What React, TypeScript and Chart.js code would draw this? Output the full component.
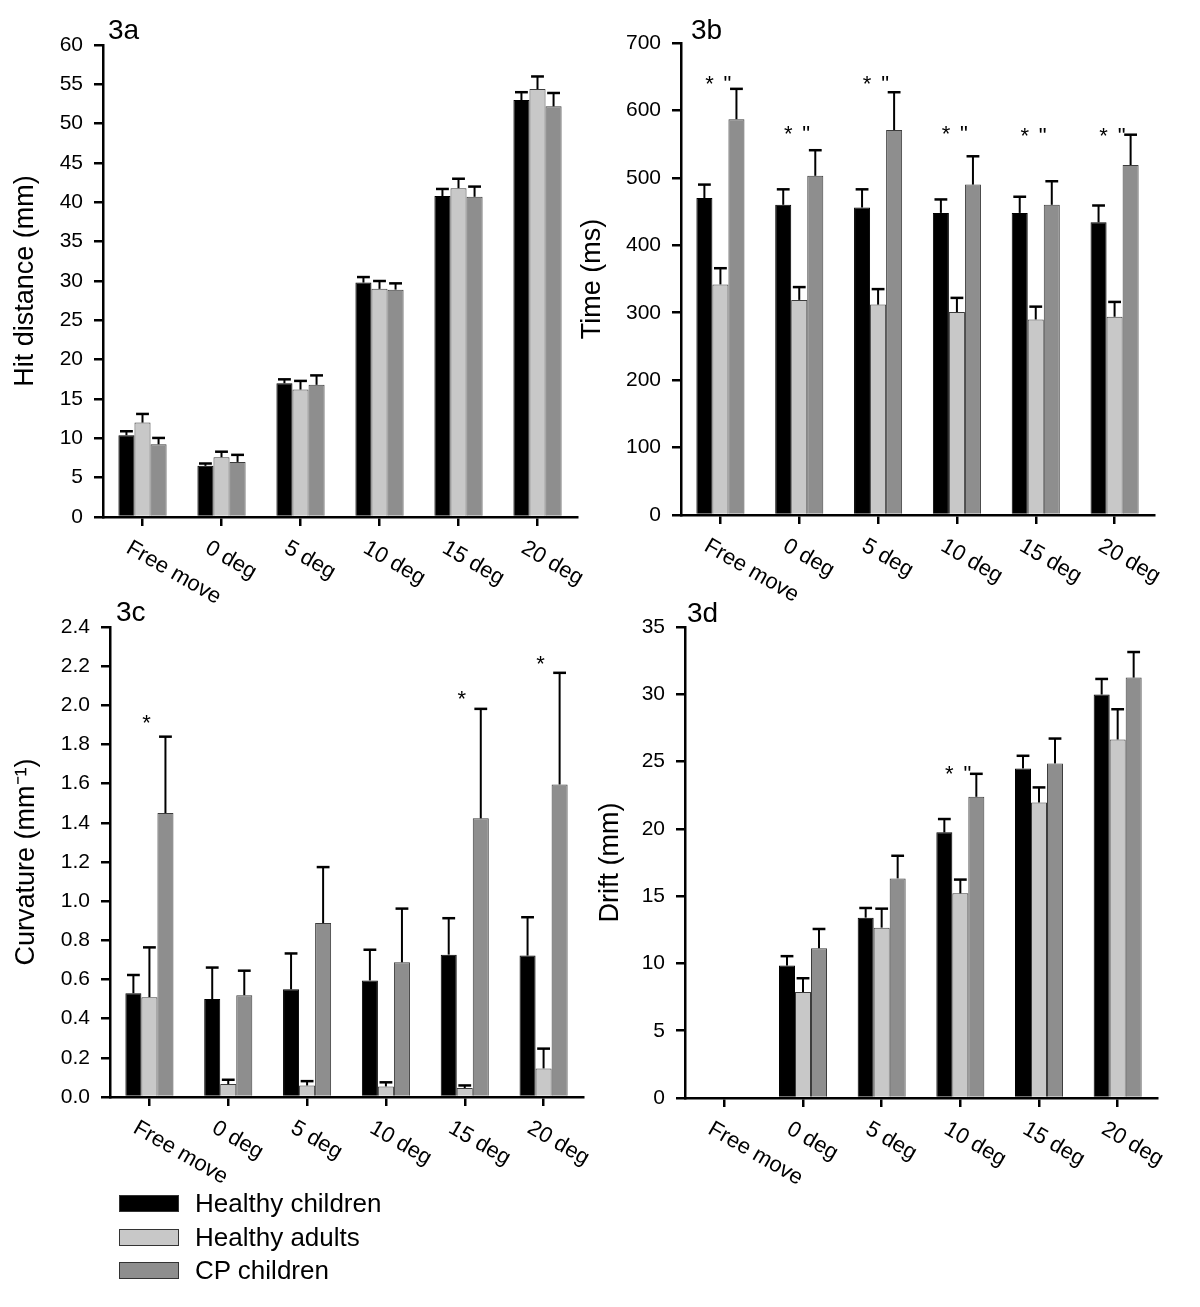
import React, { useEffect, useRef } from "react";
import { Chart, registerables } from "chart.js";

Chart.register(...registerables);

const FONT = "'Liberation Sans', Arial, Helvetica, sans-serif";

// ---------- shared data ----------
const categories = ["Free move", "0 deg", "5 deg", "10 deg", "15 deg", "20 deg"];
const seriesNames = ["Healthy children", "Healthy adults", "CP children"];
const seriesColors = ["#000000", "#c8c8c8", "#8e8e8e"];
const seriesBorders = ["#000000", "#3c3c3c", "#3c3c3c"];

// ---------- 3a Hit distance (mm) ----------
const hitChildren = [10.4, 6.5, 17.0, 29.8, 40.8, 53.0];
const hitChildrenErr = [0.5, 0.3, 0.5, 0.7, 0.9, 1.0];
const hitAdults = [12.0, 7.6, 16.2, 29.0, 41.8, 54.4];
const hitAdultsErr = [1.1, 0.7, 1.1, 1.0, 1.2, 1.6];
const hitCP = [9.25, 7.0, 16.8, 28.9, 40.7, 52.2];
const hitCPErr = [0.8, 0.9, 1.2, 0.8, 1.3, 1.7];
const hitTicks = { min: 0, max: 60, step: 5 };

// ---------- 3b Time (ms) ----------
const timeChildren = [470, 460, 456, 448, 448, 434];
const timeChildrenErr = [20, 23, 27, 20, 24, 25];
const timeAdults = [342, 319, 312, 301, 290, 294];
const timeAdultsErr = [24, 19, 23, 21, 19, 22];
const timeCP = [587, 503, 571, 490, 460, 519];
const timeCPErr = [45, 38, 56, 42, 35, 45];
const timeMarkY = [647, 574, 647, 573, 571, 571];
const timeTicks = { min: 0, max: 700, step: 100 };

// ---------- 3c Curvature (mm-1) ----------
const curvChildren = [0.53, 0.5, 0.55, 0.595, 0.727, 0.722];
const curvChildrenErr = [0.093, 0.161, 0.183, 0.157, 0.186, 0.196];
const curvAdults = [0.51, 0.066, 0.059, 0.054, 0.046, 0.146];
const curvAdultsErr = [0.254, 0.022, 0.022, 0.021, 0.013, 0.101];
const curvCP = [1.45, 0.52, 0.888, 0.688, 1.423, 1.596];
const curvCPErr = [0.39, 0.125, 0.286, 0.274, 0.559, 0.57];
const curvMarkY = [1.94, null, null, null, 2.06, 2.24];
const curvTicks = { min: 0, max: 2.4, step: 0.2 };

// ---------- 3d Drift (mm) ----------
const driftChildren = [null, 9.84, 13.4, 19.74, 24.49, 29.98];
const driftChildrenErr = [null, 0.7, 0.72, 0.99, 0.94, 1.16];
const driftAdults = [null, 7.87, 12.66, 15.21, 21.96, 26.64];
const driftAdultsErr = [null, 1.03, 1.41, 1.02, 1.12, 2.25];
const driftCP = [null, 11.13, 16.32, 22.38, 24.86, 31.24];
const driftCPErr = [null, 1.43, 1.68, 1.71, 1.85, 1.9];
const driftMarkY = [null, null, null, 24.5, null, null];
const driftTicks = { min: 0, max: 35, step: 5 };

type Num = number | null;

type PanelSpec = {
  label: string;
  yTitle: string;
  ticks: { min: number; max: number; step: number };
  decimals: number;
  values: Num[][];
  errors: Num[][];
  markY: Num[];
  marks: { text: string; dx: number }[];
  box: { left: number; top: number; width: number; height: number };
  area: { left: number; top: number; right: number; bottom: number };
  titleCenter: number;
  labelPos: { dx: number; dy: number };
};

const starQuote = [
  { text: "*", dx: -11 },
  { text: '"', dx: 7 },
];
const starOnly = [{ text: "*", dx: -3 }];

const TICK_FONT = 21;
const XLABEL_FONT = 22;
const TITLE_FONT = 27;
const PANEL_FONT = 28;
const MARK_FONT = 22;

const panels: PanelSpec[] = [
  {
    label: "3a",
    yTitle: "Hit distance (mm)",
    ticks: hitTicks,
    decimals: 0,
    values: [hitChildren, hitAdults, hitCP],
    errors: [hitChildrenErr, hitAdultsErr, hitCPErr],
    markY: [null, null, null, null, null, null],
    marks: [],
    box: { left: 0, top: 0, width: 600, height: 620 },
    area: { left: 103, top: 45, right: 577, bottom: 517 },
    titleCenter: 26,
    labelPos: { dx: 5, dy: -6 },
  },
  {
    label: "3b",
    yTitle: "Time (ms)",
    ticks: timeTicks,
    decimals: 0,
    values: [timeChildren, timeAdults, timeCP],
    errors: [timeChildrenErr, timeAdultsErr, timeCPErr],
    markY: timeMarkY,
    marks: starQuote,
    box: { left: 560, top: 0, width: 640, height: 620 },
    area: { left: 681, top: 43, right: 1154, bottom: 515 },
    titleCenter: 593,
    labelPos: { dx: 10, dy: -4 },
  },
  {
    label: "3c",
    yTitle: "Curvature (mm\u207B\u00B9)",
    ticks: curvTicks,
    decimals: 1,
    values: [curvChildren, curvAdults, curvCP],
    errors: [curvChildrenErr, curvAdultsErr, curvCPErr],
    markY: curvMarkY,
    marks: starOnly,
    box: { left: 0, top: 570, width: 600, height: 737 },
    area: { left: 110, top: 627, right: 583, bottom: 1097 },
    titleCenter: 27,
    labelPos: { dx: 6, dy: -6 },
  },
  {
    label: "3d",
    yTitle: "Drift (mm)",
    ticks: driftTicks,
    decimals: 0,
    values: [driftChildren, driftAdults, driftCP],
    errors: [driftChildrenErr, driftAdultsErr, driftCPErr],
    markY: driftMarkY,
    marks: starQuote,
    box: { left: 560, top: 570, width: 640, height: 737 },
    area: { left: 685, top: 627, right: 1157, bottom: 1098 },
    titleCenter: 611,
    labelPos: { dx: 2, dy: -5 },
  },
];

function overlayPlugin(spec: PanelSpec) {
  return {
    id: "overlay" + spec.label,
    afterDatasetsDraw(chart: any) {
      const ctx = chart.ctx;
      const ys = chart.scales.y;
      ctx.save();
      ctx.strokeStyle = "#000";
      spec.values.forEach((vals, d) => {
        const meta = chart.getDatasetMeta(d);
        vals.forEach((v, i) => {
          const e = spec.errors[d][i];
          if (v == null || e == null) return;
          const bar: any = meta.data[i];
          const px = bar.x;
          const y0 = ys.getPixelForValue(v);
          const y1 = ys.getPixelForValue(v + e);
          const cw = bar.width * 0.8;
          ctx.lineWidth = 2;
          ctx.beginPath();
          ctx.moveTo(px, y0);
          ctx.lineTo(px, y1);
          ctx.stroke();
          ctx.lineWidth = 2.5;
          ctx.beginPath();
          ctx.moveTo(px - cw / 2, y1);
          ctx.lineTo(px + cw / 2, y1);
          ctx.stroke();
        });
      });
      ctx.restore();
    },
    afterDraw(chart: any) {
      const ctx = chart.ctx;
      const xs = chart.scales.x;
      const ys = chart.scales.y;
      const ca = chart.chartArea;
      ctx.save();
      ctx.fillStyle = "#000";
      // rotated category labels
      ctx.font = `${XLABEL_FONT}px ${FONT}`;
      ctx.textAlign = "left";
      ctx.textBaseline = "top";
      categories.forEach((c, i) => {
        const tx = xs.getPixelForTick(i);
        ctx.save();
        ctx.translate(tx - 9, ca.bottom + 20);
        ctx.rotate(Math.PI / 6);
        ctx.fillText(c, 0, 0);
        ctx.restore();
      });
      // significance marks
      ctx.font = `${MARK_FONT}px ${FONT}`;
      ctx.textAlign = "center";
      ctx.textBaseline = "alphabetic";
      spec.markY.forEach((my, i) => {
        if (my == null) return;
        const cx = xs.getPixelForTick(i);
        const cy = ys.getPixelForValue(my) + 0.58 * MARK_FONT;
        spec.marks.forEach((m) => ctx.fillText(m.text, cx + m.dx, cy));
      });
      // panel label
      ctx.font = `${PANEL_FONT}px ${FONT}`;
      ctx.textAlign = "left";
      ctx.fillText(spec.label, ca.left + spec.labelPos.dx, ca.top + spec.labelPos.dy);
      ctx.restore();
    },
  };
}

function Panel({ spec }: { spec: PanelSpec }) {
  const ref = useRef<HTMLCanvasElement | null>(null);
  useEffect(() => {
    if (!ref.current) return;
    const { box, area } = spec;
    const xAxisHeight = box.top + box.height - area.bottom;
    const yAxisWidth = area.left - box.left;
    const titlePad = spec.titleCenter - box.left - (TITLE_FONT * 1.2) / 2;
    const chart = new Chart(ref.current, {
      type: "bar",
      data: {
        labels: categories,
        datasets: spec.values.map((vals, d) => ({
          label: seriesNames[d],
          data: vals as any,
          backgroundColor: seriesColors[d],
          borderColor: seriesBorders[d],
          borderWidth: 1,
          categoryPercentage: 0.61,
          barPercentage: 1.0,
        })),
      },
      options: {
        responsive: false,
        animation: false,
        devicePixelRatio: 1,
        layout: {
          padding: {
            left: 0,
            top: area.top - box.top,
            right: box.left + box.width - area.right,
            bottom: 0,
          },
        },
        plugins: {
          legend: { display: false },
          tooltip: { enabled: false },
          title: { display: false },
        },
        scales: {
          x: {
            type: "category",
            offset: true,
            grid: {
              display: true,
              drawOnChartArea: false,
              drawTicks: true,
              tickLength: 9,
              color: "#000",
              lineWidth: 2.5,
              offset: false,
            },
            border: { display: true, color: "#000", width: 2.5, z: 1 } as any,
            ticks: { display: false },
            afterFit: (s: any) => {
              s.height = xAxisHeight;
            },
          },
          y: {
            type: "linear",
            min: spec.ticks.min,
            max: spec.ticks.max,
            ticks: {
              stepSize: spec.ticks.step,
              color: "#000",
              padding: 11,
              font: { size: TICK_FONT, family: FONT },
              callback: (v: any) => Number(v).toFixed(spec.decimals),
            },
            grid: {
              display: true,
              drawOnChartArea: false,
              drawTicks: true,
              tickLength: 9,
              color: "#000",
              lineWidth: 2.5,
            },
            border: { display: true, color: "#000", width: 2.5, z: 1 } as any,
            title: {
              display: true,
              text: spec.yTitle,
              color: "#000",
              font: { size: TITLE_FONT, family: FONT },
              padding: { top: titlePad, bottom: 0 },
            },
            afterFit: (s: any) => {
              s.width = yAxisWidth;
            },
          },
        },
      },
      plugins: [overlayPlugin(spec)],
    } as any);
    return () => chart.destroy();
  }, [spec]);
  const { box } = spec;
  return (
    <canvas
      ref={ref}
      width={box.width}
      height={box.height}
      style={{
        position: "absolute",
        left: box.left,
        top: box.top,
        width: box.width,
        height: box.height,
      }}
    />
  );
}

export default function App() {
  return (
    <div
      style={{
        position: "absolute",
        left: 0,
        top: 0,
        width: 1200,
        height: 1307,
        background: "#ffffff",
        overflow: "hidden",
      }}
    >
      {panels.map((p) => (
        <Panel key={p.label} spec={p} />
      ))}
      {seriesNames.map((n, i) => (
        <React.Fragment key={n}>
          <div
            style={{
              position: "absolute",
              left: 119,
              top: 1195 + i * 33.5,
              width: 60,
              height: 17,
              background: seriesColors[i],
              border: "1px solid #333",
              boxSizing: "border-box",
            }}
          />
          <div
            style={{
              position: "absolute",
              left: 195,
              top: 1190 + i * 33.5,
              fontFamily: FONT,
              fontSize: 26,
              lineHeight: "26px",
              whiteSpace: "nowrap",
              color: "#000",
            }}
          >
            {n}
          </div>
        </React.Fragment>
      ))}
    </div>
  );
}
